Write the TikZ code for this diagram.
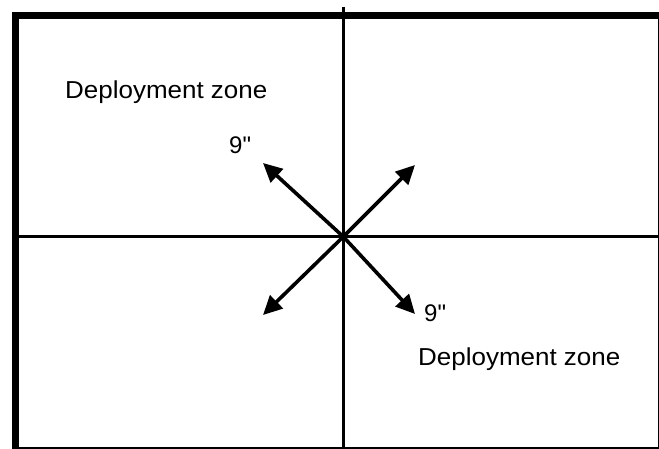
\documentclass[tikz,border=0pt]{standalone}
\usepackage{fontspec}
\newfontfamily\labelfont{Liberation Sans}
\usetikzlibrary{arrows.meta}
\tikzset{
  frame/.style={line width=7.5pt},
  divider/.style={line width=3.2pt},
  vec/.style={line width=3.6pt,-{Triangle[length=19pt,width=18pt]}},
  zonelabel/.style={anchor=base west,inner sep=0pt,font=\labelfont\fontsize{24.5}{28}\selectfont,xscale=1.06,transform shape},
  distlabel/.style={anchor=base west,inner sep=0pt,font=\labelfont\fontsize{24}{26}\selectfont}
}
\begin{document}
\begin{tikzpicture}[x=1pt,y=1pt]
\useasboundingbox (0,0) rectangle (659,448);
\clip (0,0) rectangle (659,448);
\fill[white] (0,0) rectangle (659,448);
% outer frame
\draw[frame] (15.5,432.5) rectangle (662,-2.5);
% dividers
\coordinate (vt) at (343.3,441);
\coordinate (vb) at (343.3,0);
\coordinate (hl) at (19,211.3);
\coordinate (hr) at (659,211.3);
\draw[divider] (vt) -- (vb);
\draw[divider] (hl) -- (hr);
% arrows
\coordinate (c) at (343.3,211.3);
\coordinate (ul) at (263,285);
\coordinate (ur) at (415,283);
\coordinate (dl) at (263,133);
\coordinate (dr) at (415,134);
\draw[vec] (c) -- (ul);
\draw[vec] (c) -- (ur);
\draw[vec] (c) -- (dl);
\draw[vec] (c) -- (dr);
% labels
\node[zonelabel] (z1) at (65,349) {Deployment zone};
\node[zonelabel] (z2) at (418,83) {Deployment zone};
\node[distlabel] (d1) at (229,294) {9"};
\node[distlabel] (d2) at (424,127) {9"};
\end{tikzpicture}
\end{document}
